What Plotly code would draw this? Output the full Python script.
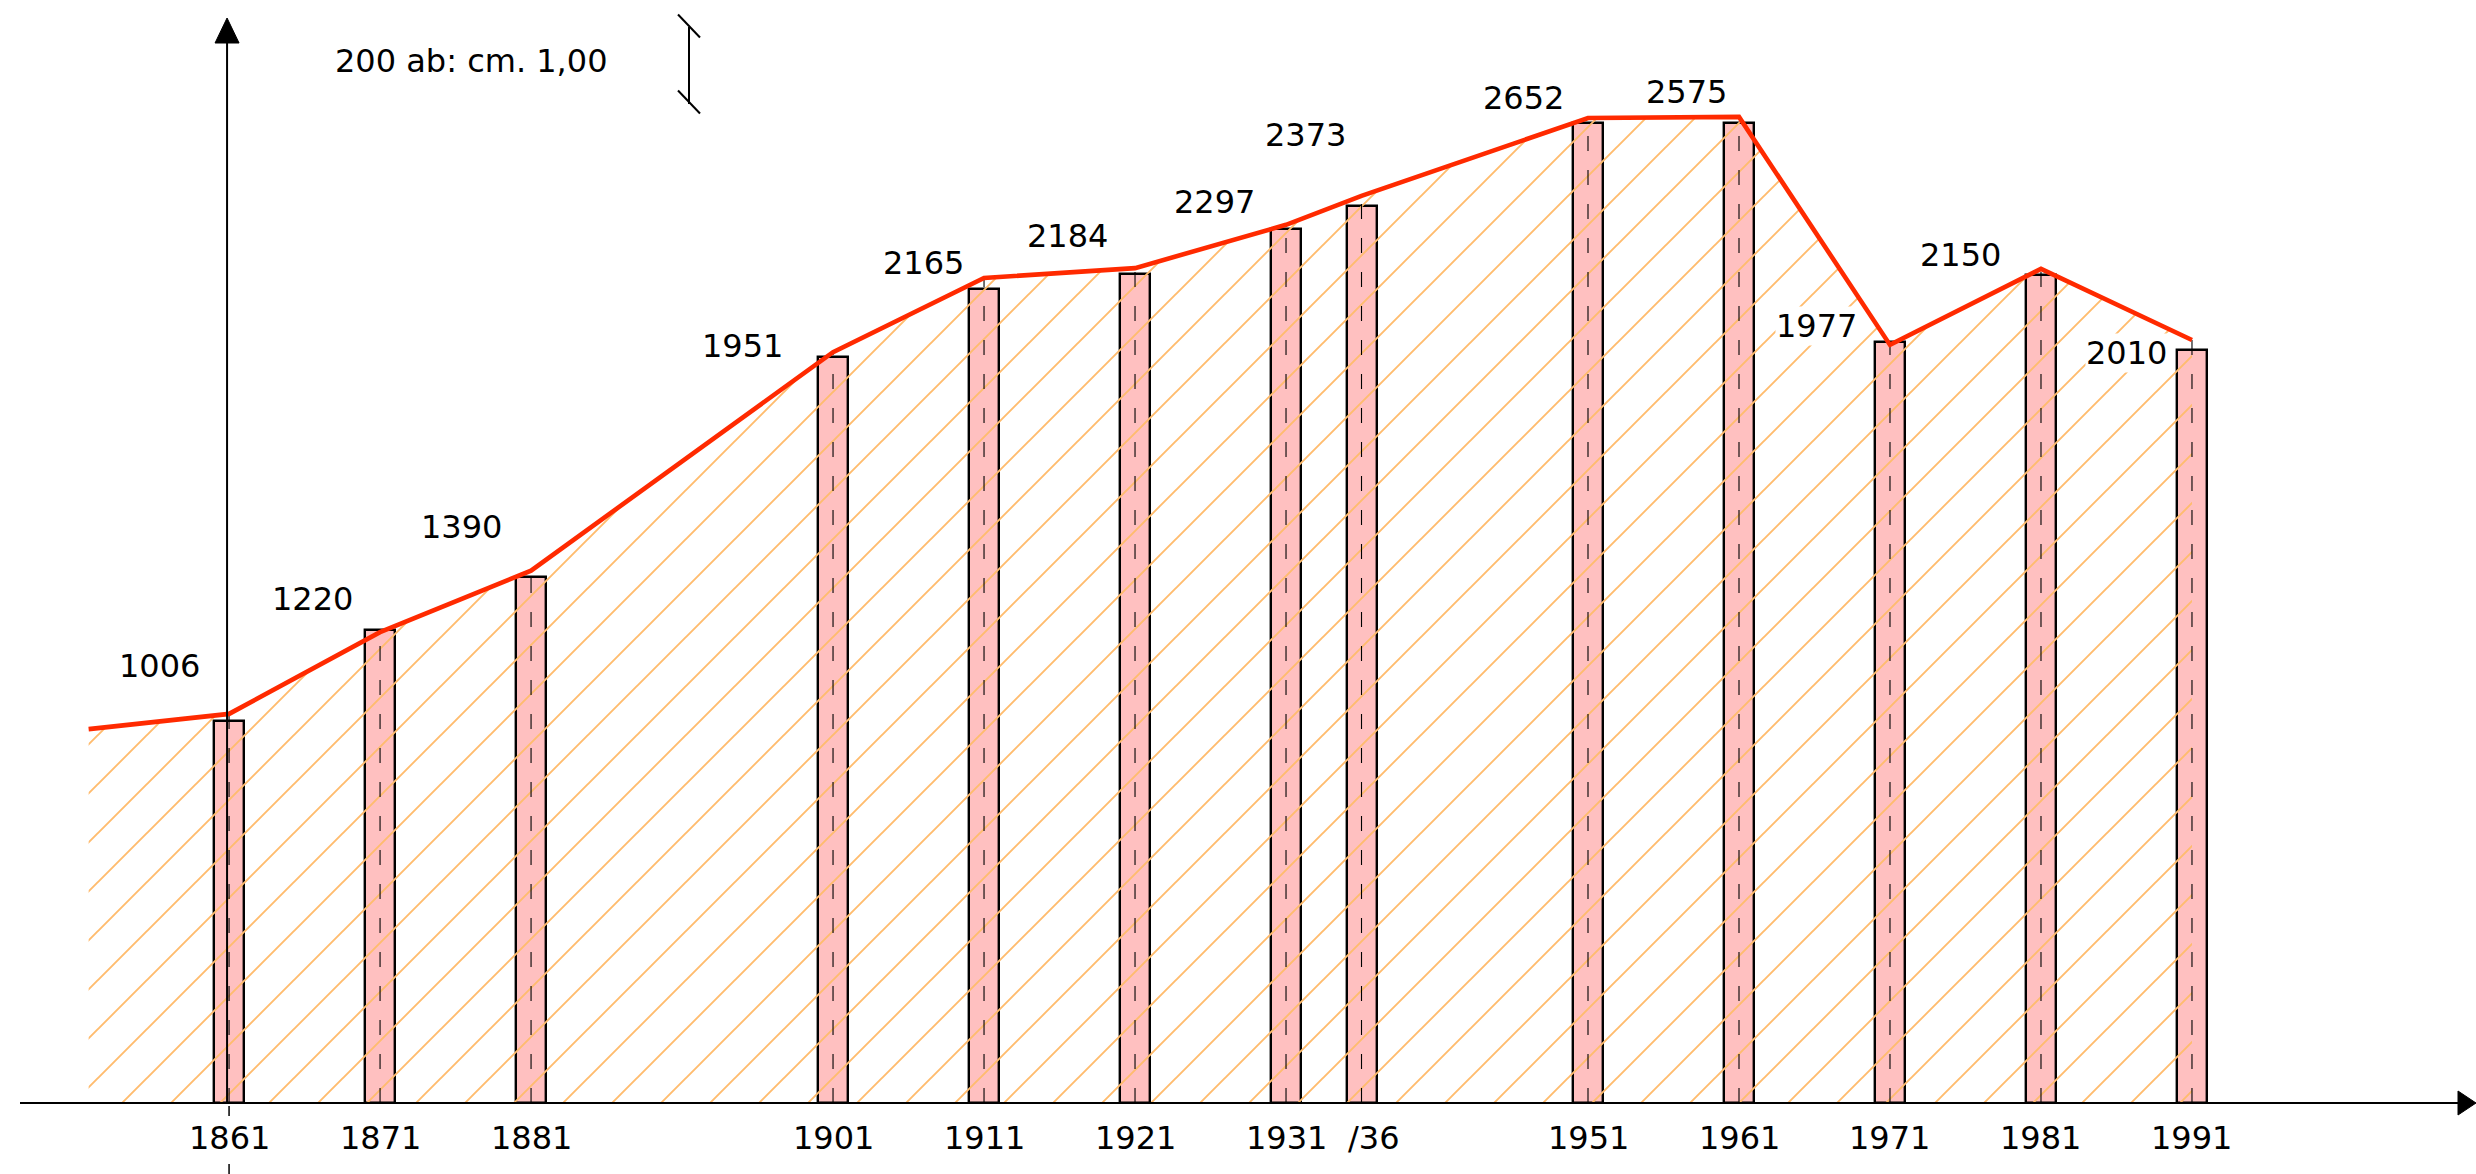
import plotly.graph_objects as go

# ---------------- data ----------------
census_years = [1861, 1871, 1881, 1901, 1911, 1921, 1931, 1936, 1951, 1961, 1971, 1981, 1991]
tick_labels = ["1861", "1871", "1881", "1901", "1911", "1921", "1931", "/36",
               "1951", "1961", "1971", "1981", "1991"]
bar_values = [1006, 1245, 1384, 1963, 2142, 2182, 2300, 2361, 2579, 2579, 2003, 2179, 1982]
line_start_year = 1851.7
line_start_value = 984
line_values = [1024, 1239, 1401, 1976, 2171, 2197, 2311, 2387, 2592, 2595, 1995, 2195, 2008]
value_labels = ["1006", "1220", "1390", "1951", "2165", "2184", "2297", "2373",
                "2652", "2575", "1977", "2150", "2010"]
scale_value = 200
scale_text = "200 ab: cm. 1,00"

# ---------------- style / layout ----------------
W, H = 2476, 1174
X_RANGE = [1845.83, 2009.81]
Y_RANGE = [-186.8, 2902.6]
px_per_year = W / (X_RANGE[1] - X_RANGE[0])
px_per_val = H / (Y_RANGE[1] - Y_RANGE[0])

FONT = "DejaVu Sans"
FS = 32
RED = "rgb(255,42,0)"
PINK = "rgb(255,192,192)"
ORANGE = "rgb(255,188,110)"

# label offsets in pixels (dx, dy up)
label_shift = [(-70, 48), (-68, 33), (-70, 44), (-91, 6), (-61, 15), (-68, 32), (-72, 23),
               (-56, 61), (-65, 20), (-53, 25), (-73, 19), (-80, 14), (-65, -13)]
tick_shift = [0] * 7 + [12] + [0] * 5

line_x = [line_start_year] + census_years
line_y = [line_start_value] + line_values

fig = go.Figure()

# bars
fig.add_trace(go.Bar(
    x=census_years, y=bar_values, width=30 / px_per_year,
    marker=dict(color=PINK, line=dict(color="black", width=2.4)),
    hoverinfo="skip", showlegend=False))

# hatched area under the line
fig.add_trace(go.Scatter(
    x=line_x, y=line_y, mode="lines", fill="tozeroy",
    line=dict(width=0, color="rgba(0,0,0,0)"),
    fillcolor="rgba(0,0,0,0)",
    fillpattern=dict(shape="/", size=49 / 1.41421356, solidity=0.055,
                     fgcolor=ORANGE, bgcolor="rgba(0,0,0,0)", fillmode="replace"),
    hoverinfo="skip", showlegend=False))

# dashed centre lines of the bars
dx, dy = [], []
for yr, v in zip(census_years, line_values):
    dx += [yr, yr, None]
    dy += [0, v, None]
fig.add_trace(go.Scatter(
    x=dx, y=dy, mode="lines",
    line=dict(color="black", width=1.1, dash="15px,19px"),
    hoverinfo="skip", showlegend=False))

# red line
fig.add_trace(go.Scatter(
    x=line_x, y=line_y, mode="lines",
    line=dict(color=RED, width=4.6),
    hoverinfo="skip", showlegend=False))

shapes = []
# x axis
x_axis_start = X_RANGE[0] + 20 / px_per_year
x_tip = X_RANGE[1]
x_base = x_tip - 18 / px_per_year
shapes.append(dict(type="line", xref="x", yref="y", x0=x_axis_start, x1=x_base, y0=0, y1=0,
                   line=dict(color="black", width=2)))
ah = 12 / px_per_val
shapes.append(dict(type="path", xref="x", yref="y",
                   path=f"M{x_base},{ah} L{x_tip},0 L{x_base},{-ah} Z",
                   fillcolor="black", line=dict(color="black", width=1)))
# y axis
y_axis_x = census_years[0] - 2 / px_per_year
y_tip = Y_RANGE[1] - 18 / px_per_val
y_base = Y_RANGE[1] - 43 / px_per_val
aw = 12 / px_per_year
shapes.append(dict(type="line", xref="x", yref="y", x0=y_axis_x, x1=y_axis_x, y0=0, y1=y_base,
                   line=dict(color="black", width=2)))
shapes.append(dict(type="path", xref="x", yref="y",
                   path=f"M{y_axis_x - aw},{y_base} L{y_axis_x},{y_tip} L{y_axis_x + aw},{y_base} Z",
                   fillcolor="black", line=dict(color="black", width=1)))
# dashed continuation below the axis at 1861
shapes.append(dict(type="line", xref="x", yref="y", x0=census_years[0], x1=census_years[0],
                   y0=-3 / px_per_val, y1=-13 / px_per_val, line=dict(color="black", width=1.5)))
shapes.append(dict(type="line", xref="x", yref="y", x0=census_years[0], x1=census_years[0],
                   y0=-61 / px_per_val, y1=Y_RANGE[0], line=dict(color="black", width=1.5)))

# scale mark (200 inhabitants)
sx = X_RANGE[0] + 689 / px_per_year
s_top = Y_RANGE[1] - 26 / px_per_val
s_bot = s_top - scale_value
shapes.append(dict(type="line", xref="x", yref="y", x0=sx, x1=sx,
                   y0=s_bot - 2 / px_per_val, y1=s_top - 1 / px_per_val,
                   line=dict(color="black", width=2)))
tx, ty = 11 / px_per_year, 11.5 / px_per_val
for yc in (s_top, s_bot):
    shapes.append(dict(type="line", xref="x", yref="y", x0=sx - tx, x1=sx + tx,
                       y0=yc + ty, y1=yc - ty, line=dict(color="black", width=2)))

annotations = []
for yr, v, txt, (sx_, sy_) in zip(census_years, line_values, value_labels, label_shift):
    annotations.append(dict(x=yr, y=v, xref="x", yref="y", text=txt, showarrow=False,
                            xshift=sx_, yshift=sy_, bgcolor="white", borderpad=0,
                            font=dict(family=FONT, size=FS, color="black")))
for yr, txt, sh in zip(census_years, tick_labels, tick_shift):
    annotations.append(dict(x=yr, y=-35 / px_per_val, xref="x", yref="y", text=txt,
                            showarrow=False, xshift=sh, yanchor="middle",
                            font=dict(family=FONT, size=FS, color="black")))
annotations.append(dict(x=X_RANGE[0] + 471 / px_per_year, y=Y_RANGE[1] - 61 / px_per_val,
                        xref="x", yref="y", text=scale_text, showarrow=False,
                        font=dict(family=FONT, size=FS, color="black")))

fig.update_layout(
    width=W, height=H, margin=dict(l=0, r=0, t=0, b=0),
    paper_bgcolor="white", plot_bgcolor="white",
    xaxis=dict(range=X_RANGE, visible=False, fixedrange=True),
    yaxis=dict(range=Y_RANGE, visible=False, fixedrange=True),
    shapes=shapes, annotations=annotations, showlegend=False, bargap=0,
)

fig.write_html("out.html", config={"displayModeBar": False},
               post_script="document.body.style.margin='0px';document.body.style.overflow='hidden';")
